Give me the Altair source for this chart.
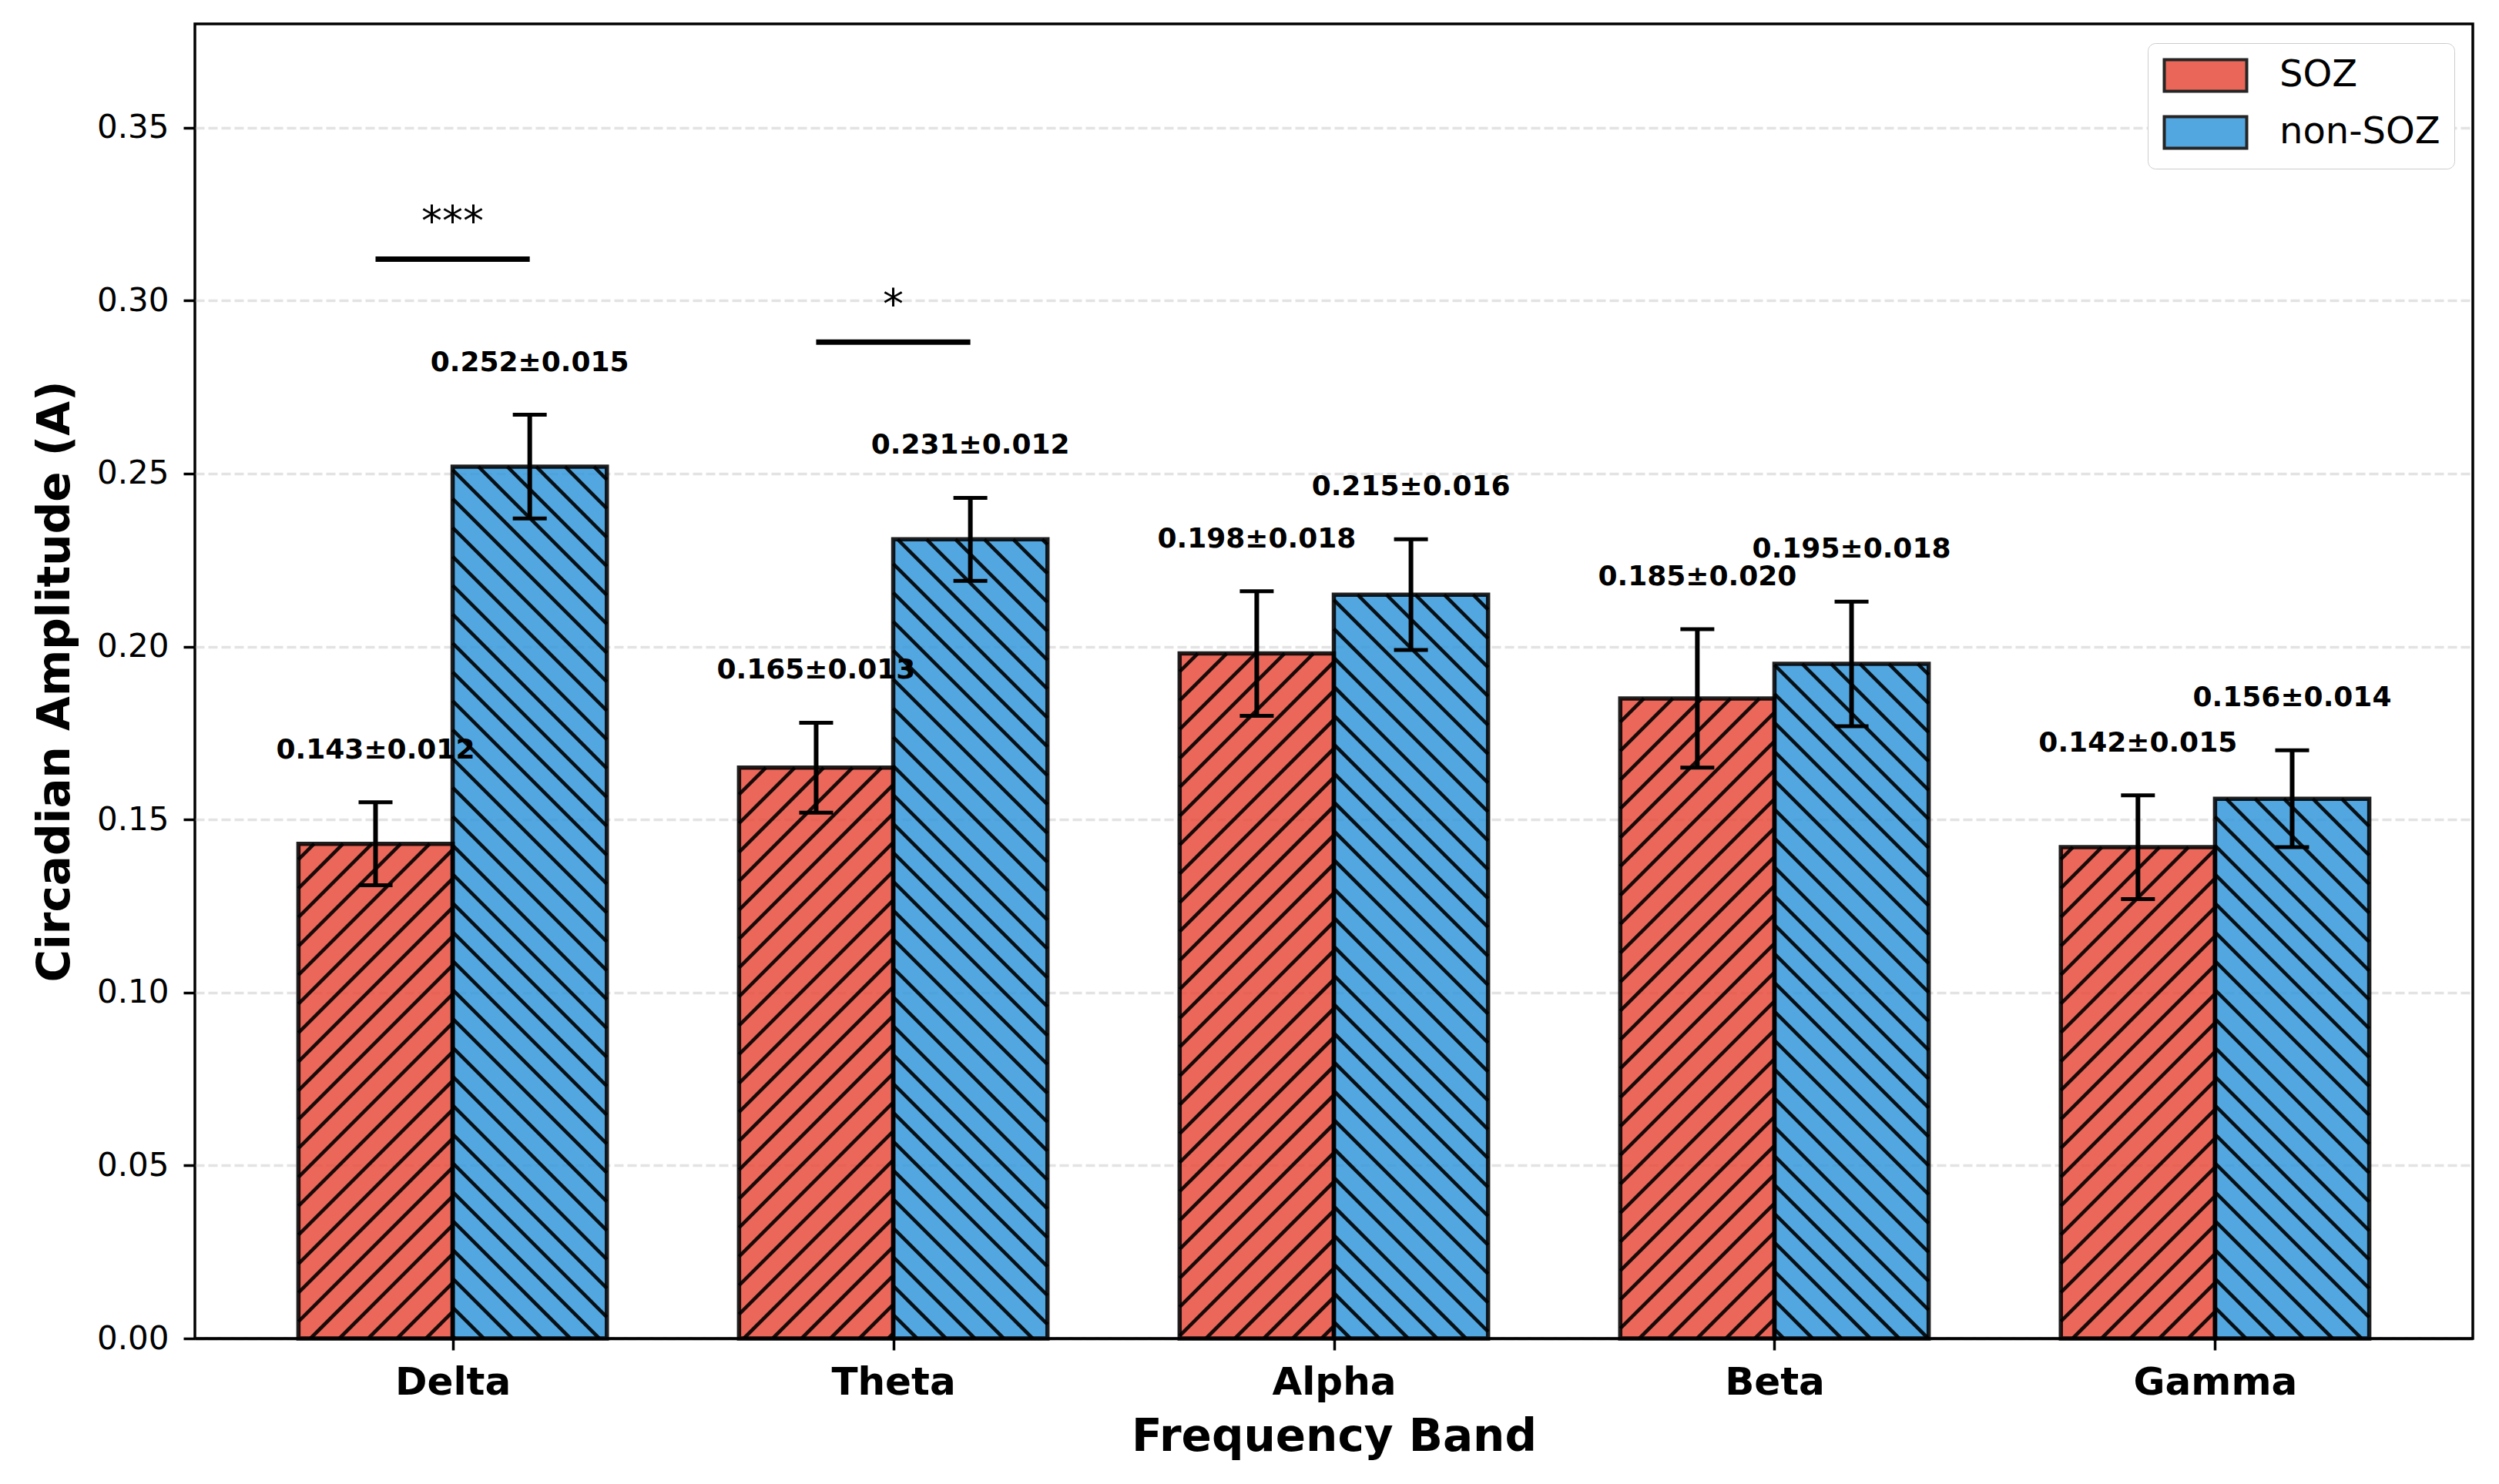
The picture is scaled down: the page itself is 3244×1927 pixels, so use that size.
import altair as alt
import numpy as np
import pandas as pd

# ---------------- data ----------------
bands = ["Delta", "Theta", "Alpha", "Beta", "Gamma"]
groups = ["SOZ", "non-SOZ"]
soz_mean = [0.143, 0.165, 0.198, 0.185, 0.142]
soz_err = [0.012, 0.013, 0.018, 0.020, 0.015]
non_mean = [0.252, 0.231, 0.215, 0.195, 0.156]
non_err = [0.015, 0.012, 0.016, 0.018, 0.014]
sig_bands = ["Delta", "Theta"]
sig_labels = ["***", "*"]
sig_heights = [0.312, 0.288]
y_ticks = [0.0, 0.05, 0.10, 0.15, 0.20, 0.25, 0.30, 0.35]

# ---------------- style / layout ----------------
colors = ["#e74c3c", "#3498db"]
W, H = 2957, 1707
X_DOMAIN = [-0.585, 4.585]
Y_DOMAIN = [0.0, 0.38]
BAR_W = 0.35
HATCH = 37.5  # px spacing of hatch lines
FONT = "DejaVu Sans"

sx = W / (X_DOMAIN[1] - X_DOMAIN[0])
sy = H / (Y_DOMAIN[1] - Y_DOMAIN[0])

xscale = alt.Scale(domain=X_DOMAIN, nice=False, zero=False)
yscale = alt.Scale(domain=Y_DOMAIN, nice=False)

# ---------------- tables ----------------
rows = []
for i, b in enumerate(bands):
    for g, means, errs, off in ((groups[0], soz_mean, soz_err, -BAR_W),
                                (groups[1], non_mean, non_err, 0.0)):
        x0 = i + off
        rows.append(dict(band=b, group=g, x0=x0, x1=x0 + BAR_W, xc=x0 + BAR_W / 2,
                         mean=means[i], err=errs[i], base=0.0,
                         lo=means[i] - errs[i], hi=means[i] + errs[i],
                         label=f"{means[i]:.3f}\u00b1{errs[i]:.3f}"))
bars = pd.DataFrame(rows)


def hatch_segments(x0, x1, top, forward):
    X0 = (x0 - X_DOMAIN[0]) * sx
    X1 = (x1 - X_DOMAIN[0]) * sx
    Ht = top * sy
    segs = []
    if forward:  # '/'
        k0 = int(np.floor((X0 - Ht) / HATCH)) - 1
        k1 = int(np.ceil(X1 / HATCH)) + 1
        for k in range(k0, k1 + 1):
            c = k * HATCH
            xa, xb = max(X0, c), min(X1, c + Ht)
            if xb - xa > 1:
                segs.append((xa, xa - c, xb, xb - c))
    else:  # '\'
        k0 = int(np.floor(X0 / HATCH)) - 1
        k1 = int(np.ceil((X1 + Ht) / HATCH)) + 1
        for k in range(k0, k1 + 1):
            c = k * HATCH
            xa, xb = max(X0, c - Ht), min(X1, c)
            if xb - xa > 1:
                segs.append((xa, c - xa, xb, c - xb))
    return [dict(hx=a / sx + X_DOMAIN[0], hy=b / sy, hx2=c / sx + X_DOMAIN[0], hy2=d / sy)
            for a, b, c, d in segs]


hrows = []
for _, r in bars.iterrows():
    hrows += hatch_segments(r.x0, r.x1, r["mean"], r.group == groups[0])
hatch = pd.DataFrame(hrows)

sig = pd.DataFrame(dict(
    band=sig_bands, label=sig_labels, y=sig_heights,
    xa=[bands.index(b) - BAR_W / 2 for b in sig_bands],
    xb=[bands.index(b) + BAR_W / 2 for b in sig_bands],
    xm=[bands.index(b) for b in sig_bands],
))

label_expr = "[" + ",".join(f"'{b}'" for b in bands) + "][datum.value]"

x_axis = alt.Axis(values=list(range(len(bands))), labelExpr=label_expr,
                  title="Frequency Band", grid=False,
                  domain=True, domainColor="black", domainWidth=3.5, zindex=1,
                  labelFont=FONT, labelFontSize=50, labelFontWeight="bold",
                  labelColor="black", labelBaseline="alphabetic", labelPadding=57,
                  labelLimit=600,
                  tickSize=15, tickWidth=3.5, tickColor="black",
                  titleFont=FONT, titleFontSize=58, titleFontWeight="bold",
                  titleColor="black", titleX=W / 2, titleY=145,
                  titleBaseline="alphabetic", titleAlign="center")
y_axis = alt.Axis(values=y_ticks, format=".2f", title="Circadian Amplitude (A)",
                  domain=False, grid=True, gridColor="#b0b0b0", gridOpacity=0.35,
                  gridDash=[12, 5], gridWidth=3.3,
                  labelFont=FONT, labelFontSize=42, labelColor="black",
                  labelPadding=19, tickSize=15, tickWidth=3.5, tickColor="black",
                  titleFont=FONT, titleFontSize=58, titleFontWeight="bold",
                  titleColor="black", titleX=-181, titleY=H / 2, titleAngle=270,
                  titleBaseline="middle", titleAlign="center")

base = alt.Chart(bars)

# legend patch: 107 x 41 px rectangle, drawn from a 41px nominal symbol extended rightwards
fill = base.mark_rect(fillOpacity=0.85, strokeWidth=0).encode(
    x=alt.X("x0:Q", scale=xscale, axis=x_axis),
    x2="x1:Q",
    y=alt.Y("mean:Q", scale=yscale, axis=y_axis),
    y2="base:Q",
    color=alt.Color("group:N", scale=alt.Scale(domain=groups, range=colors),
                    legend=alt.Legend(title=None, orient="none", legendX=2535, legendY=25,
                                      symbolType="M-1,-1H4.22V1H-1Z",
                                      symbolSize=41 * 41, symbolStrokeColor="black",
                                      symbolStrokeWidth=4, symbolOpacity=0.85,
                                      labelFont=FONT, labelFontSize=48, labelColor="black",
                                      labelOffset=105, labelLimit=600, rowPadding=16,
                                      padding=18, fillColor="white", strokeColor="#cccccc",
                                      cornerRadius=10)),
)

hatch_layer = alt.Chart(hatch).mark_rule(color="black", strokeWidth=4.6, opacity=0.9).encode(
    x=alt.X("hx:Q", scale=xscale), x2="hx2:Q",
    y=alt.Y("hy:Q", scale=yscale), y2="hy2:Q",
)

outline = base.mark_rect(fillOpacity=0, stroke="black", strokeWidth=5.5, strokeOpacity=0.88).encode(
    x=alt.X("x0:Q", scale=xscale), x2="x1:Q",
    y=alt.Y("mean:Q", scale=yscale), y2="base:Q",
)

err_line = base.mark_rule(color="black", strokeWidth=6).encode(
    x=alt.X("xc:Q", scale=xscale),
    y=alt.Y("lo:Q", scale=yscale), y2="hi:Q",
)
cap_lo = base.mark_tick(orient="horizontal", size=44, thickness=5, color="black", opacity=1).encode(
    x=alt.X("xc:Q", scale=xscale), y=alt.Y("lo:Q", scale=yscale),
)
cap_hi = base.mark_tick(orient="horizontal", size=44, thickness=5, color="black", opacity=1).encode(
    x=alt.X("xc:Q", scale=xscale), y=alt.Y("hi:Q", scale=yscale),
)

values = base.mark_text(font=FONT, fontSize=36, fontWeight="bold", color="black",
                        baseline="alphabetic", align="center", dy=-57).encode(
    x=alt.X("xc:Q", scale=xscale), y=alt.Y("hi:Q", scale=yscale), text="label:N",
)

sig_line = alt.Chart(sig).mark_rule(color="black", strokeWidth=7).encode(
    x=alt.X("xa:Q", scale=xscale), x2="xb:Q", y=alt.Y("y:Q", scale=yscale),
)
sig_text = alt.Chart(sig).mark_text(font=FONT, fontSize=54, color="black",
                                    baseline="alphabetic", align="center", dy=-31).encode(
    x=alt.X("xm:Q", scale=xscale), y=alt.Y("y:Q", scale=yscale), text="label:N",
)

chart = alt.layer(fill, hatch_layer, outline, err_line, cap_lo, cap_hi, values,
                  sig_line, sig_text).properties(
    width=W, height=H,
    autosize=alt.AutoSizeParams(type="none"),
    padding={"left": 245, "top": 23, "right": 20, "bottom": 170},
    background="white",
).configure(font=FONT).configure_view(stroke="black", strokeWidth=3.5)

chart.save("out.html", embed_options={"renderer": "svg", "actions": False})
